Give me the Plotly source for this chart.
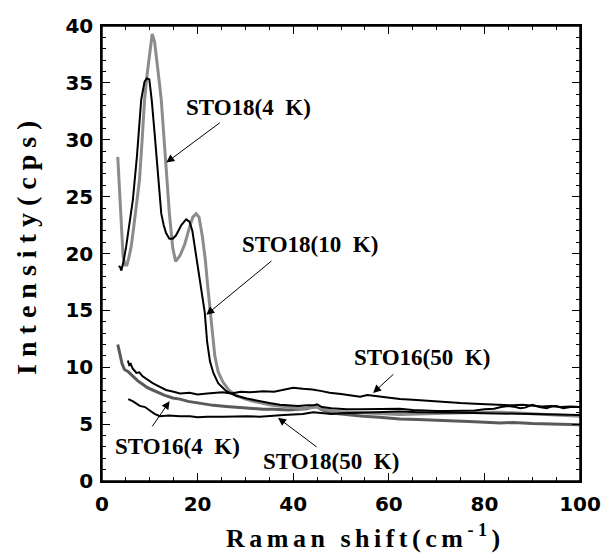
import plotly.graph_objects as go

# ---------------- data ----------------
sto18_4k_x = [3.3, 3.6, 4.0, 4.4, 4.8, 5.2, 5.6, 6.1, 6.6, 7.2, 7.85, 8.4, 8.9, 9.4, 9.95, 10.5, 11.0, 11.4,
              11.9, 12.4, 12.9, 13.4, 14.1, 14.8, 15.4, 16.3, 17.3, 18.3, 19.0, 19.7, 20.3, 21.0, 21.6, 22.1,
              22.6, 23.1, 23.6, 24.3, 25.3, 26.5, 28.2, 30.0, 31.6, 33.5, 35.0, 37.0, 39.3, 41.0, 42.5, 44.2,
              45.2, 46.0, 47.5, 49.1, 52.0, 55.0, 58.0, 62.3, 66.0, 70.0, 74.0, 77.0, 80.0, 83.3, 87.0, 90.0,
              93.0, 95.0, 98.0, 100.0]
sto18_4k_y = [28.5, 26.0, 22.5, 19.8, 19.0, 19.0, 19.6, 20.6, 22.2, 24.1, 26.5, 30.0, 33.5, 35.6, 37.3, 39.3,
              38.6, 37.3, 35.4, 33.5, 30.7, 28.2, 23.5, 20.5, 19.3, 19.8, 20.8, 22.3, 23.2, 23.5, 23.2, 21.5,
              19.5, 17.2, 15.3, 13.0, 11.0, 9.6, 8.7, 8.0, 7.5, 7.2, 7.0, 6.85, 6.7, 6.6, 6.45, 6.4, 6.4, 6.45,
              6.5, 6.3, 6.2, 6.1, 6.05, 6.0, 5.95, 5.85, 5.9, 5.95, 6.0, 6.0, 6.05, 6.05, 5.95, 5.9, 5.85, 5.8,
              5.75, 5.7]

sto18_10k_x = [3.5, 3.8, 4.05, 4.5, 5.05, 5.7, 6.45, 7.3, 8.2, 8.9, 9.4, 9.9, 10.4, 11.0, 11.5, 12.0, 12.4,
               12.9, 13.4, 14.1, 14.8, 15.5, 16.6, 17.6, 18.3, 18.9, 19.4, 19.9, 20.4, 21.0, 21.5, 22.0, 22.6,
               23.3, 24.3, 26.0, 28.0, 30.3, 33.0, 35.0, 37.2, 39.0, 41.0, 43.0, 44.2, 45.0, 46.0, 48.0, 51.2,
               54.0, 56.0, 59.0, 62.3, 65.0, 67.0, 70.0, 72.0, 75.0, 78.0, 80.0, 82.0, 83.5, 85.0, 86.5, 87.5,
               88.5, 90.0, 91.5, 93.0, 94.0, 95.0, 96.5, 98.0, 100.0]
sto18_10k_y = [18.9, 18.8, 18.5, 19.3, 20.6, 22.5, 24.7, 28.5, 33.5, 35.1, 35.4, 35.3, 33.5, 30.6, 28.2, 25.9,
               23.5, 22.5, 21.8, 21.3, 21.3, 21.6, 22.5, 23.0, 22.8, 22.0, 20.6, 19.2, 17.7, 16.2, 14.8, 12.2,
               10.5, 9.5, 8.6, 7.9, 7.5, 7.25, 7.0, 6.85, 6.7, 6.65, 6.6, 6.65, 6.65, 6.75, 6.5, 6.4, 6.3, 6.3,
               6.3, 6.35, 6.35, 6.25, 6.2, 6.15, 6.15, 6.2, 6.2, 6.3, 6.35, 6.5, 6.6, 6.5, 6.4, 6.45, 6.7, 6.5,
               6.4, 6.55, 6.6, 6.4, 6.5, 6.5]

sto16_50k_x = [5.4, 5.7, 6.0, 6.4, 7.2, 7.8, 8.5, 9.5, 10.6, 12.0, 13.4, 15.0, 16.3, 18.3, 20.0, 22.0, 24.0,
               25.2, 27.0, 29.0, 31.0, 33.7, 36.0, 38.0, 40.0, 42.0, 44.0, 46.0, 47.6, 50.0, 52.5, 54.0, 55.5,
               57.5, 60.0, 62.3, 65.0, 68.0, 70.0, 72.8, 75.0, 78.0, 80.0, 83.2, 86.0, 88.0, 90.2, 92.0, 94.0,
               96.0, 98.0, 100.0]
sto16_50k_y = [10.6, 10.2, 10.3, 9.9, 9.5, 9.55, 9.2, 8.9, 8.6, 8.3, 8.0, 7.85, 7.7, 7.75, 7.6, 7.7, 7.75,
               7.8, 7.7, 7.85, 7.8, 7.9, 7.85, 8.0, 8.2, 8.1, 8.05, 7.9, 7.75, 7.65, 7.5, 7.4, 7.55, 7.45, 7.3,
               7.2, 7.15, 7.05, 7.0, 6.9, 6.85, 6.8, 6.75, 6.7, 6.65, 6.7, 6.6, 6.55, 6.6, 6.5, 6.55, 6.5]

sto16_4k_x = [3.3, 3.7, 4.2, 4.7, 5.5, 6.5, 7.5, 8.5, 9.5, 10.6, 12.0, 13.0, 14.8, 16.3, 18.0, 20.0, 21.8,
              23.3, 26.0, 29.0, 31.0, 33.8, 36.0, 39.0, 41.0, 42.8, 43.8, 44.9, 45.8, 47.7, 50.0, 52.0, 54.7,
              58.0, 62.3, 66.0, 70.0, 74.0, 78.0, 83.3, 86.0, 90.0, 94.0, 97.0, 100.0]
sto16_4k_y = [12.0, 11.2, 10.3, 9.8, 9.6, 9.2, 8.8, 8.5, 8.2, 8.0, 7.7, 7.55, 7.3, 7.2, 7.0, 6.85, 6.7, 6.65,
              6.55, 6.45, 6.4, 6.3, 6.3, 6.25, 6.3, 6.35, 6.5, 6.6, 6.3, 6.0, 5.9, 5.8, 5.7, 5.6, 5.45, 5.4,
              5.35, 5.3, 5.2, 5.1, 5.15, 5.05, 5.0, 5.0, 4.95]

sto18_50k_x = [5.5, 6.5, 7.9, 9.0, 10.0, 11.0, 12.1, 14.0, 16.3, 18.4, 20.0, 22.0, 25.4, 28.0, 30.3, 33.0,
               35.8, 38.0, 40.0, 42.0, 44.2, 46.0, 48.0, 50.0, 53.0, 56.0, 59.0, 62.3, 66.0, 70.0, 75.0, 80.0,
               85.0, 90.0, 95.0, 100.0]
sto18_50k_y = [7.2, 7.0, 6.6, 6.5, 6.2, 5.9, 5.7, 5.75, 5.7, 5.7, 5.6, 5.65, 5.65, 5.7, 5.7, 5.65, 5.7, 5.8,
               5.85, 5.9, 6.05, 6.0, 5.9, 5.95, 6.0, 6.05, 6.1, 6.1, 6.05, 6.0, 6.0, 5.95, 5.95, 5.9, 5.85, 5.8]

x_range = [0, 100]
y_range = [0, 40]
x_tick_vals = [0, 20, 40, 60, 80, 100]
x_tick_text = ["0", "20", "40", "60", "80", "100"]
y_tick_vals = [0, 5, 10, 15, 20, 25, 30, 35, 40]
y_tick_text = ["0", "5", "10", "15", "20", "25", "30", "35", "40"]

label_text = ["STO18(4\u00a0\u00a0K)", "STO18(10\u00a0\u00a0K)", "STO16(50\u00a0\u00a0K)",
              "STO16(4\u00a0\u00a0K)", "STO18(50\u00a0\u00a0K)"]
label_x = [30.7, 43.6, 67.0, 15.7, 48.0]
label_y = [32.8, 20.8, 10.9, 3.0, 1.7]
arrow_tail_x = [24.96, 35.77, 61.26, 10.30, 45.19]
arrow_tail_y = [31.59, 19.45, 9.50, 4.67, 2.91]
arrow_tip_x = [13.45, 21.82, 56.71, 14.14, 36.82]
arrow_tip_y = [27.99, 14.62, 7.74, 7.01, 5.55]

x_title = "Raman shift(cm<sup>-1</sup>)"
y_title = "Intensity(cps)"

# ---------------- figure ----------------
fig = go.Figure()

LIGHT = "#8c8c8c"
DARK = "#5a5a5a"
BLACK = "#000000"

series = [
    (sto16_4k_x, sto16_4k_y, DARK, 3, "STO16(4 K)"),
    (sto18_4k_x, sto18_4k_y, LIGHT, 3, "STO18(4 K)"),
    (sto18_50k_x, sto18_50k_y, BLACK, 2, "STO18(50 K)"),
    (sto16_50k_x, sto16_50k_y, BLACK, 2, "STO16(50 K)"),
    (sto18_10k_x, sto18_10k_y, BLACK, 2, "STO18(10 K)"),
]
for xs, ys, col, w, name in series:
    fig.add_trace(go.Scatter(x=xs, y=ys, mode="lines", name=name,
                             line=dict(color=col, width=w), showlegend=False))

# invisible copy on the top/right axes so that their ticks get drawn
fig.add_trace(go.Scatter(x=sto18_50k_x, y=sto18_50k_y, xaxis="x2", yaxis="y2", mode="lines",
                         line=dict(width=0, color="rgba(0,0,0,0)"), showlegend=False,
                         hoverinfo="skip"))

serif = "Liberation Serif"
annotations = []
for t, lx, ly in zip(label_text, label_x, label_y):
    annotations.append(dict(x=lx, y=ly, xref="x", yref="y", text=t, showarrow=False,
                            font=dict(family=serif, size=23, color="black", weight="bold"),
                            xanchor="center", yanchor="middle"))
for tx, ty, hx, hy in zip(arrow_tail_x, arrow_tail_y, arrow_tip_x, arrow_tip_y):
    annotations.append(dict(x=hx, y=hy, xref="x", yref="y", ax=tx, ay=ty, axref="x", ayref="y",
                            text="", showarrow=True, arrowhead=2, arrowsize=1.6, arrowwidth=1,
                            arrowcolor="black", standoff=0, startstandoff=0))

annotations.append(dict(x=0.552, y=-0.123, xref="paper", yref="paper",
                        text='<span style="letter-spacing:4.5px">' + x_title + '</span>',
                        showarrow=False, xanchor="center", yanchor="middle",
                        font=dict(family=serif, size=26, color="black", weight="bold")))
annotations.append(dict(x=-0.157, y=0.521, xref="paper", yref="paper", textangle=-90,
                        text='<span style="letter-spacing:7px">' + y_title + '</span>',
                        showarrow=False, xanchor="center", yanchor="middle",
                        font=dict(family=serif, size=28, color="black", weight="bold")))

tickfont = dict(family="DejaVu Sans", size=20, color="black", weight="bold")
common = dict(ticks="inside", ticklen=8, tickwidth=1, tickcolor="black",
              showline=True, linecolor="black", linewidth=1.5,
              showgrid=False, zeroline=False, automargin=False)

fig.update_layout(
    width=612, height=555,
    margin=dict(l=102, r=32, t=26, b=74, pad=0),
    paper_bgcolor="white", plot_bgcolor="white",
    annotations=annotations,
    shapes=[dict(type="rect", xref="paper", yref="paper", x0=0, y0=0, x1=1, y1=1,
                 line=dict(color="black", width=1.5), layer="above")],
    xaxis=dict(range=x_range, tickvals=x_tick_vals, ticktext=x_tick_text, ticklabelstandoff=4,
               minor=dict(dtick=5, ticks="inside", ticklen=4, tickwidth=1, tickcolor="black"),
               tickfont=tickfont, **common),
    yaxis=dict(range=y_range, tickvals=y_tick_vals, ticktext=y_tick_text, ticklabelstandoff=3,
               minor=dict(dtick=1, ticks="inside", ticklen=4, tickwidth=1, tickcolor="black"),
               tickfont=tickfont, **common),
    xaxis2=dict(range=x_range, tickvals=x_tick_vals, overlaying="x", side="top", anchor="y2",
                showticklabels=False,
                minor=dict(dtick=5, ticks="inside", ticklen=4, tickwidth=1, tickcolor="black"),
                **common),
    yaxis2=dict(range=y_range, tickvals=y_tick_vals, overlaying="y", side="right", anchor="x2",
                showticklabels=False,
                minor=dict(dtick=1, ticks="inside", ticklen=4, tickwidth=1, tickcolor="black"),
                **common),
)

fig.write_html("out.html", config={"displayModeBar": False},
               post_script="document.body.style.margin='0';document.body.style.overflow='hidden';")
